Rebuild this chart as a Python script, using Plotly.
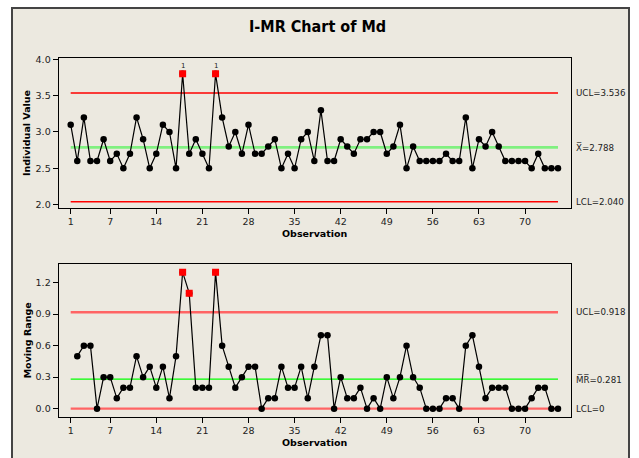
import plotly.graph_objects as go

W, H = 639, 458

observations = list(range(1, 76))
individual = [3.1, 2.6, 3.2, 2.6, 2.6, 2.9, 2.6, 2.7, 2.5, 2.7,
              3.2, 2.9, 2.5, 2.7, 3.1, 3.0, 2.5, 3.8, 2.7, 2.9,
              2.7, 2.5, 3.8, 3.2, 2.8, 3.0, 2.7, 3.1, 2.7, 2.7,
              2.8, 2.9, 2.5, 2.7, 2.5, 2.9, 3.0, 2.6, 3.3, 2.6,
              2.6, 2.9, 2.8, 2.7, 2.9, 2.9, 3.0, 3.0, 2.7, 2.8,
              3.1, 2.5, 2.8, 2.6, 2.6, 2.6, 2.6, 2.7, 2.6, 2.6,
              3.2, 2.5, 2.9, 2.8, 3.0, 2.8, 2.6, 2.6, 2.6, 2.6,
              2.5, 2.7, 2.5, 2.5, 2.5]
mr_obs = list(range(2, 76))
moving_range = [0.5, 0.6, 0.6, 0.0, 0.3, 0.3, 0.1, 0.2, 0.2,
                0.5, 0.3, 0.4, 0.2, 0.4, 0.1, 0.5, 1.3, 1.1, 0.2,
                0.2, 0.2, 1.3, 0.6, 0.4, 0.2, 0.3, 0.4, 0.4, 0.0,
                0.1, 0.1, 0.4, 0.2, 0.2, 0.4, 0.1, 0.4, 0.7, 0.7,
                0.0, 0.3, 0.1, 0.1, 0.2, 0.0, 0.1, 0.0, 0.3, 0.1,
                0.3, 0.6, 0.3, 0.2, 0.0, 0.0, 0.0, 0.1, 0.1, 0.0,
                0.6, 0.7, 0.4, 0.1, 0.2, 0.2, 0.2, 0.0, 0.0, 0.0,
                0.1, 0.2, 0.2, 0.0, 0.0]

I_UCL, I_CL, I_LCL = 3.536, 2.788, 2.040
MR_UCL, MR_CL, MR_LCL = 0.918, 0.281, 0.0

x_ticks = [1, 7, 14, 21, 28, 35, 42, 49, 56, 63, 70]
i_ticks = [2.0, 2.5, 3.0, 3.5, 4.0]
mr_ticks = [0.0, 0.3, 0.6, 0.9, 1.2]

FONT = "DejaVu Sans"
BG = "#ECE9E0"

fig = go.Figure()

xs = [observations[0], observations[-1]]
# Individuals chart limit lines
fig.add_trace(go.Scatter(x=xs, y=[I_CL] * 2, mode="lines", line=dict(color="#80F080", width=2.6), xaxis="x", yaxis="y"))
fig.add_trace(go.Scatter(x=xs, y=[I_UCL] * 2, mode="lines", line=dict(color="#FF0000", width=1.3), xaxis="x", yaxis="y"))
fig.add_trace(go.Scatter(x=xs, y=[I_LCL] * 2, mode="lines", line=dict(color="#FF0000", width=1.3), xaxis="x", yaxis="y"))
fig.add_trace(go.Scatter(x=observations, y=individual, mode="lines+markers",
                         line=dict(color="black", width=1.2),
                         marker=dict(color="black", size=6.5), xaxis="x", yaxis="y"))
i_out = [(o, v) for o, v in zip(observations, individual) if v > I_UCL or v < I_LCL]
fig.add_trace(go.Scatter(x=[o for o, _ in i_out], y=[v for _, v in i_out], mode="markers",
                         marker=dict(color="#FF0000", size=7, symbol="square"), xaxis="x", yaxis="y"))

# Moving range chart limit lines
fig.add_trace(go.Scatter(x=xs, y=[MR_CL] * 2, mode="lines", line=dict(color="#00FF00", width=1.3), xaxis="x2", yaxis="y2"))
fig.add_trace(go.Scatter(x=xs, y=[MR_UCL] * 2, mode="lines", line=dict(color="#FF6464", width=2.4), xaxis="x2", yaxis="y2"))
fig.add_trace(go.Scatter(x=xs, y=[MR_LCL] * 2, mode="lines", line=dict(color="#FF6464", width=2.4), xaxis="x2", yaxis="y2"))
fig.add_trace(go.Scatter(x=mr_obs, y=moving_range, mode="lines+markers",
                         line=dict(color="black", width=1.2),
                         marker=dict(color="black", size=6.5), xaxis="x2", yaxis="y2"))
mr_out = [(o, v) for o, v in zip(mr_obs, moving_range) if v > MR_UCL]
fig.add_trace(go.Scatter(x=[o for o, _ in mr_out], y=[v for _, v in mr_out], mode="markers",
                         marker=dict(color="#FF0000", size=7, symbol="square"), xaxis="x2", yaxis="y2"))

xl, xr = 58.7 / W, 570.7 / W
top_dom = [1 - 206.7 / H, 1 - 54.7 / H]
bot_dom = [1 - 418.3 / H, 1 - 263.3 / H]

axis_common = dict(showline=True, linecolor="black", linewidth=1.2, mirror=True,
                   ticks="outside", ticklen=5, tickcolor="black", tickwidth=1,
                   showgrid=False, zeroline=False,
                   tickfont=dict(family=FONT, size=9.5, color="#222"))

xrange = [-0.82, 76.93]
fig.update_layout(
    width=W, height=H, margin=dict(l=0, r=0, t=0, b=0),
    paper_bgcolor="white", plot_bgcolor="white", showlegend=False,
    xaxis=dict(domain=[xl, xr], range=xrange, tickvals=x_ticks, anchor="y", **axis_common),
    yaxis=dict(domain=top_dom, range=[1.954, 4.018], tickvals=i_ticks, tickformat=".1f", anchor="x", **axis_common),
    xaxis2=dict(domain=[xl, xr], range=xrange, tickvals=x_ticks, anchor="y2", **axis_common),
    yaxis2=dict(domain=bot_dom, range=[-0.078, 1.379], tickvals=mr_ticks, tickformat=".1f", anchor="x2", **axis_common),
    shapes=[dict(type="rect", xref="paper", yref="paper", x0=12 / W, x1=629 / W, y0=-0.01, y1=1 - 4 / H,
                 fillcolor=BG, line=dict(color="#444", width=2), layer="below")],
)

ann = []
ann.append(dict(text="<b>I-MR Chart of Md</b>", x=(xl + xr) / 2 + 3 / W, y=1 - 23 / H, xref="paper", yref="paper",
                showarrow=False, font=dict(family="DejaVu Sans Condensed, Liberation Sans Narrow, DejaVu Sans", size=16, color="black"),
                xanchor="center", yanchor="middle"))
for txt, yc in [("Individual Value", (top_dom[0] + top_dom[1]) / 2), ("Moving Range", (bot_dom[0] + bot_dom[1]) / 2)]:
    ann.append(dict(text="<b>" + txt + "</b>", x=27 / W, y=yc, xref="paper", yref="paper", textangle=-90,
                    showarrow=False, font=dict(family=FONT, size=9.5, color="black"),
                    xanchor="center", yanchor="middle"))
for yp in [233, 444]:
    ann.append(dict(text="<b>Observation</b>", x=(xl + xr) / 2, y=1 - yp / H, xref="paper", yref="paper",
                    showarrow=False, font=dict(family=FONT, size=9.5, color="black"),
                    xanchor="center", yanchor="middle"))
lab_x = 574.5 / W
lab_font = dict(family=FONT, size=8.7, color="#222")
for txt, yv, yr in [(f"UCL={I_UCL:.3f}", I_UCL, "y"), (f"X\u0305={I_CL:.3f}", I_CL, "y"), (f"LCL={I_LCL:.3f}", I_LCL, "y"),
                    (f"UCL={MR_UCL:.3f}", MR_UCL, "y2"), (f"M\u0305R\u0305={MR_CL:.3f}", MR_CL, "y2"), (f"LCL={MR_LCL:g}", MR_LCL, "y2")]:
    ann.append(dict(text=txt, x=lab_x, y=yv, xref="paper", yref=yr, showarrow=False, font=lab_font,
                    xanchor="left", yanchor="middle", borderpad=0))
for o, v in i_out:
    ann.append(dict(text="1", x=o, y=v, xref="x", yref="y", yshift=8, showarrow=False,
                    font=dict(family=FONT, size=7, color="#222"), xanchor="center", yanchor="middle"))
fig.update_layout(annotations=ann)

fig.write_html("out.html")
